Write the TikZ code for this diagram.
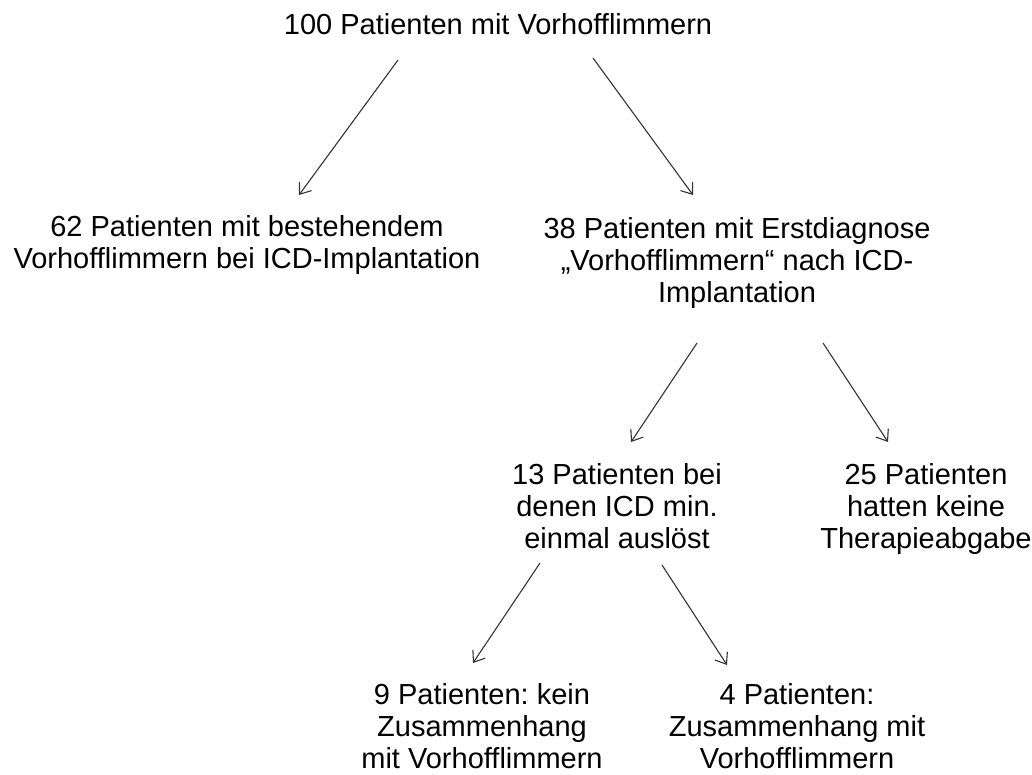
\documentclass[tikz,border=0pt]{standalone}
\usepackage{fontspec}
\setmainfont{Liberation Sans}
\usetikzlibrary{arrows.meta}
\frenchspacing
\tikzset{
  lbl/.style={align=center, inner sep=0pt, anchor=base, font=\fontsize{29}{32}\selectfont\frenchspacing, text=black},
  arr/.style={draw=black!80, line width=1.1pt, -{Straight Barb[length=10pt,width=15pt]}}
}
\begin{document}
\begin{tikzpicture}[x=1pt,y=-1pt]
\useasboundingbox (0,0) rectangle (1032,774);
\node[lbl] (top) at (498,34) {100 Patienten mit Vorhofflimmern};
\node[lbl] (left) at (247,268) {62 Patienten mit bestehendem\\Vorhofflimmern bei ICD-Implantation};
\node[lbl] (right) at (737,302) {38 Patienten mit Erstdiagnose\\„Vorhofflimmern“ nach ICD-\\Implantation};
\node[lbl] (mid) at (617,548) {13 Patienten bei\\denen ICD min.\\einmal auslöst};
\node[lbl] (none) at (926,548) {25 Patienten\\hatten keine\\Therapieabgabe};
\node[lbl] (nine) at (482,768) {9 Patienten: kein\\Zusammenhang\\mit Vorhofflimmern};
\node[lbl] (four) at (797,768) {4 Patienten:\\Zusammenhang mit\\Vorhofflimmern};
\coordinate (a1s) at (398,60);  \coordinate (a1e) at (299,195);
\coordinate (a2s) at (593,58);  \coordinate (a2e) at (693,195);
\coordinate (a3s) at (697,343); \coordinate (a3e) at (631,442);
\coordinate (a4s) at (823,343); \coordinate (a4e) at (888,442);
\coordinate (a5s) at (540,563); \coordinate (a5e) at (473,663);
\coordinate (a6s) at (662,565); \coordinate (a6e) at (727,665);
\draw[arr] (a1s) -- (a1e);
\draw[arr] (a2s) -- (a2e);
\draw[arr] (a3s) -- (a3e);
\draw[arr] (a4s) -- (a4e);
\draw[arr] (a5s) -- (a5e);
\draw[arr] (a6s) -- (a6e);
\end{tikzpicture}
\end{document}
